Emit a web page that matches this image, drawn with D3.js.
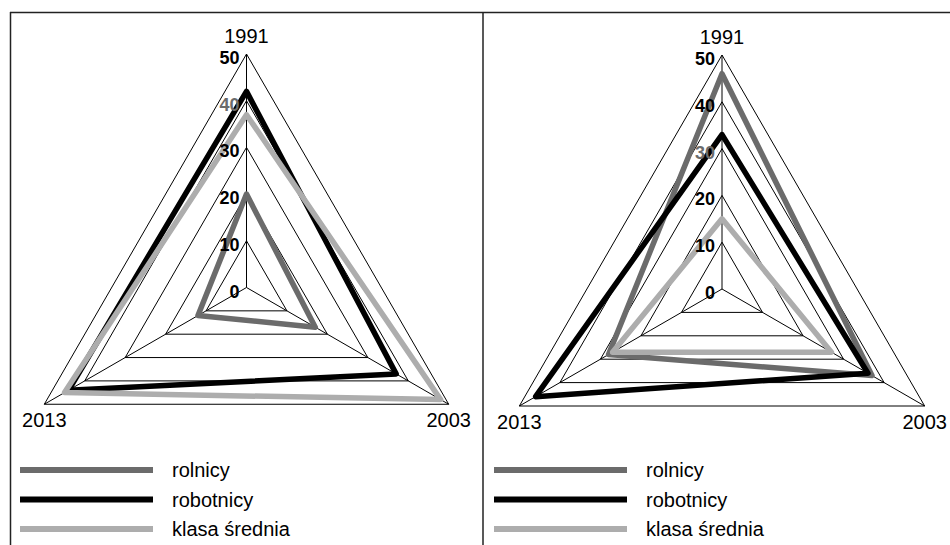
<!DOCTYPE html>
<html><head><meta charset="utf-8">
<script src="https://cdn.jsdelivr.net/npm/d3@7"></script>
<style>
html,body{margin:0;padding:0;background:#fff;}
svg{display:block;}
text{font-family:"Liberation Sans",Arial,sans-serif;}
</style></head>
<body>
<svg id="chart" width="950" height="545"></svg>
<script>
// ---- data ----
const categories = ["1991", "2003", "2013"];
const seriesNames = ["rolnicy", "robotnicy", "klasa średnia"];
const tickValues = [0, 10, 20, 30, 40, 50];

const leftRolnicy    = [20, 17, 12];
const leftRobotnicy  = [42, 37, 44];
const leftKlasa      = [37, 48, 45];

const rightRolnicy   = [46, 37, 28];
const rightRobotnicy = [33, 36, 46];
const rightKlasa     = [15, 27, 27];

// ---- styling ----
const seriesColors = ["#6b6b6b", "#000000", "#adadad"];
const W = 950, H = 545;
const svg = d3.select("#chart");

const panels = [
  {cx: 246.5, cy: 287.5, R: 233.5, series: [leftRolnicy, leftRobotnicy, leftKlasa], greyTick: 40, legendX: 20},
  {cx: 722, cy: 289, R: 234, series: [rightRolnicy, rightRobotnicy, rightKlasa], greyTick: 30, legendX: 494}
];

// frame
svg.append("line").attr("x1", 10).attr("x2", W).attr("y1", 12.5).attr("y2", 12.5)
  .attr("stroke", "#222").attr("stroke-width", 1.5);
svg.append("line").attr("x1", 10.5).attr("x2", 10.5).attr("y1", 12).attr("y2", H)
  .attr("stroke", "#222").attr("stroke-width", 1.5);
svg.append("line").attr("x1", 483).attr("x2", 483).attr("y1", 12).attr("y2", H)
  .attr("stroke", "#222").attr("stroke-width", 1.5);

const step = 2 * Math.PI / categories.length;

panels.forEach(p => {
  const g = svg.append("g").attr("transform", `translate(${p.cx},${p.cy})`);
  const r = d3.scaleLinear().domain([0, d3.max(tickValues)]).range([0, p.R]);
  const pt = (v, i) => {
    const a = i * step - Math.PI / 2;
    return [r(v) * Math.cos(a), r(v) * Math.sin(a)];
  };

  // grid rings
  const ring = d3.lineRadial().angle((d, i) => i * step).radius(d => r(d)).curve(d3.curveLinearClosed);
  tickValues.filter(t => t > 0).forEach(t => {
    g.append("path").attr("d", ring(categories.map(() => t)))
      .attr("fill", "none").attr("stroke", "#000").attr("stroke-width", 1);
  });
  // spokes
  categories.forEach((c, i) => {
    const [x, y] = pt(d3.max(tickValues), i);
    g.append("line").attr("x1", 0).attr("y1", 0).attr("x2", x).attr("y2", y)
      .attr("stroke", "#000").attr("stroke-width", 1);
  });

  // series
  const line = d3.lineRadial().angle((d, i) => i * step).radius(d => r(d)).curve(d3.curveLinearClosed);
  p.series.forEach((vals, si) => {
    g.append("path").attr("d", line(vals))
      .attr("fill", "none").attr("stroke", seriesColors[si])
      .attr("stroke-width", 5.5).attr("stroke-linejoin", "round");
  });

  // tick labels (on top)
  tickValues.forEach(t => {
    g.append("text").attr("x", -7).attr("y", -r(t) + 10)
      .attr("text-anchor", "end").attr("font-size", 18).attr("font-weight", "bold")
      .attr("fill", t === p.greyTick ? "#6b6b6b" : "#000")
      .text(t);
  });

  // category labels
  categories.forEach((c, i) => {
    const [x, y] = pt(d3.max(tickValues), i);
    g.append("text").attr("x", x).attr("y", i === 0 ? y - 11 : y + 23)
      .attr("text-anchor", "middle").attr("font-size", 20).attr("fill", "#000")
      .text(c);
  });

  // legend
  seriesNames.forEach((name, si) => {
    const ly = 470 + si * 29.5;
    svg.append("line").attr("x1", p.legendX).attr("x2", p.legendX + 133)
      .attr("y1", ly).attr("y2", ly)
      .attr("stroke", seriesColors[si]).attr("stroke-width", 6);
    svg.append("text").attr("x", p.legendX + 152).attr("y", ly + 7)
      .attr("font-size", 20).attr("fill", "#000").text(name);
  });
});
</script>
</body></html>
